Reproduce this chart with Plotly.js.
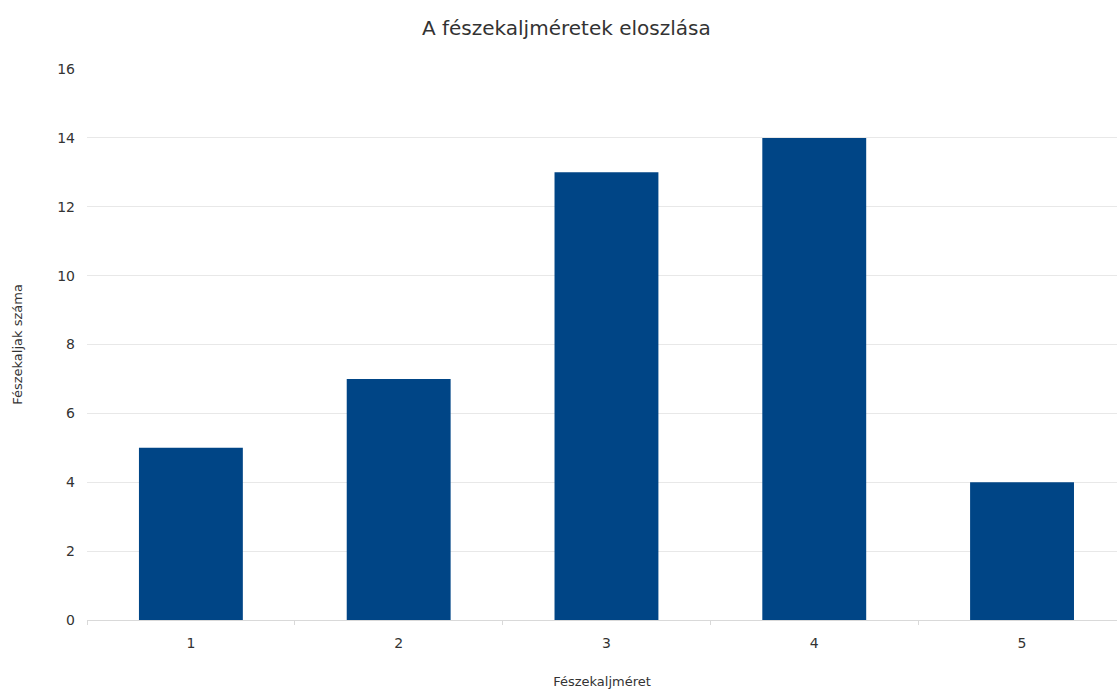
<!DOCTYPE html>
<html>
<head>
<meta charset="utf-8">
<script src="https://cdn.plot.ly/plotly-3.0.1.min.js"></script>
<style>
  html, body { margin: 0; padding: 0; background: #fff; overflow: hidden; }
  #chart { width: 1117px; height: 690px; }
</style>
</head>
<body>
<div id="chart"></div>
<script>
// Clutch sizes and how many nests had each size
const clutchSizes = ['1', '2', '3', '4', '5'];
const nestCounts = [5, 7, 13, 14, 4];
const yTickValues = [0, 2, 4, 6, 8, 10, 12, 14, 16];

const font = 'DejaVu Sans, Verdana, sans-serif';
const textColor = '#333333';

const trace = {
  type: 'bar',
  x: clutchSizes,
  y: nestCounts,
  marker: { color: '#004586', line: { width: 0 } },
  hoverinfo: 'x+y'
};

const layout = {
  width: 1117,
  height: 690,
  paper_bgcolor: '#ffffff',
  plot_bgcolor: '#ffffff',
  margin: { l: 87, r: 0, t: 69, b: 70 },
  bargap: 0.5,
  showlegend: false,
  font: { family: font, color: textColor },
  title: {
    text: 'A fészekaljméretek eloszlása',
    font: { family: font, size: 20, color: textColor },
    x: 0.507,
    xref: 'container',
    xanchor: 'center',
    y: 0.96,
    yref: 'container',
    yanchor: 'middle'
  },
  xaxis: {
    type: 'category',
    range: [-0.5, 4.457],
    showgrid: false,
    zeroline: false,
    showline: true,
    linecolor: '#d9d9d9',
    linewidth: 1,
    ticks: 'outside',
    tickson: 'boundaries',
    ticklen: 4,
    tickcolor: '#d9d9d9',
    ticklabelstandoff: 10,
    tickfont: { family: font, size: 14, color: textColor },
    title: {
      text: 'Fészekaljméret',
      font: { family: font, size: 13, color: textColor },
      standoff: 27
    },
    automargin: false,
    fixedrange: true
  },
  yaxis: {
    range: [0, 16],
    tickvals: yTickValues,
    ticktext: yTickValues.map(String),
    showgrid: true,
    gridcolor: '#e8e8e8',
    gridwidth: 1,
    zeroline: false,
    showline: false,
    ticks: '',
    ticklabelstandoff: 11,
    tickfont: { family: font, size: 14, color: textColor },
    title: {
      text: 'Fészekaljak száma',
      font: { family: font, size: 13, color: textColor },
      standoff: 31
    },
    automargin: false,
    fixedrange: true
  }
};

Plotly.newPlot('chart', [trace], layout, { displayModeBar: false, staticPlot: true });
</script>
</body>
</html>
